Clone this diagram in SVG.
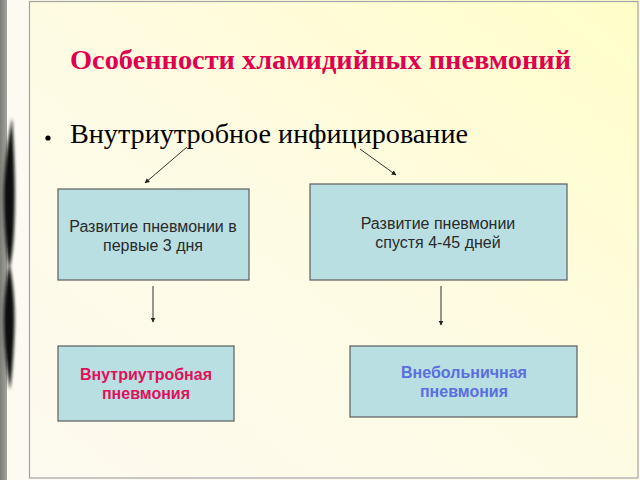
<svg xmlns="http://www.w3.org/2000/svg" width="640" height="480" viewBox="0 0 640 480">
<defs>
<linearGradient id="bg" x1="0" y1="1" x2="1" y2="0">
<stop offset="0" stop-color="#fdfaf0"/>
<stop offset="0.5" stop-color="#fefbe4"/>
<stop offset="1" stop-color="#fffec8"/>
</linearGradient>
<linearGradient id="strip" x1="0" y1="0" x2="1" y2="0">
<stop offset="0" stop-color="#7d7d78"/>
<stop offset="1" stop-color="#a5a59f"/>
</linearGradient>
<filter id="blur" x="-50%" y="-10%" width="200%" height="120%"><feGaussianBlur stdDeviation="1.6"/></filter>
<marker id="ah" viewBox="0 0 10 10" refX="9" refY="5" markerWidth="5" markerHeight="5" orient="auto" markerUnits="userSpaceOnUse">
<path d="M0,0 L10,5 L0,10 z" fill="#222"/>
</marker>
<style>
.box{fill:#b9dfe2;stroke:#5a5e5e;stroke-width:1.2}
.lbl{font-family:"Liberation Sans",Arial,sans-serif;font-size:16px;fill:#2a2a2a;text-anchor:middle}
.bl{font-family:"Liberation Sans",Arial,sans-serif;font-size:16px;font-weight:bold;text-anchor:middle}
.con{stroke:#333;stroke-width:1;fill:none;marker-end:url(#ah)}
.ser{font-family:"Liberation Serif","Times New Roman",serif}
</style>
</defs>
<rect width="640" height="480" fill="url(#bg)"/>
<rect x="0" y="0" width="30" height="480" fill="#fcfaf1"/>
<rect x="0" y="0" width="7" height="480" fill="url(#strip)"/>
<g filter="url(#blur)" fill="#111">
<path d="M12,118 C14,150 16,190 14,230 C13,250 11,262 9,270 C6,250 3,215 4,185 C5,160 9,135 12,118 z"/>
<path d="M9,262 C13,280 16,310 14,340 C13,360 12,375 10,390 C7,370 3,340 4,310 C5,290 7,275 9,262 z"/>
</g>
<rect x="29.5" y="1.5" width="608.5" height="476.5" fill="none" stroke="#a4a3ab" stroke-width="1.2"/>
<text class="ser" x="70" y="69" font-size="27" font-weight="bold" fill="#e0004e" textLength="501" lengthAdjust="spacingAndGlyphs">Особенности хламидийных пневмоний</text>
<circle cx="48" cy="138" r="2.6" fill="#000"/>
<text class="ser" x="70" y="143" font-size="27" fill="#000" textLength="398" lengthAdjust="spacingAndGlyphs">Внутриутробное инфицирование</text>
<g id="connectors">
<line class="con" x1="187" y1="147" x2="145" y2="183"/>
<line class="con" x1="360" y1="149" x2="396" y2="175"/>
<line class="con" x1="153" y1="286" x2="153" y2="322"/>
<line class="con" x1="441" y1="286" x2="441" y2="325"/>
</g>
<g id="node1">
<rect class="box" x="58" y="189" width="191" height="91"/>
<text class="lbl" x="153" y="232">Развитие пневмонии в</text>
<text class="lbl" x="153" y="251">первые 3 дня</text>
</g>
<g id="node2">
<rect class="box" x="310" y="184" width="257" height="96"/>
<text class="lbl" x="438" y="229">Развитие пневмонии</text>
<text class="lbl" x="438" y="248">спустя 4-45 дней</text>
</g>
<g id="node3">
<rect class="box" x="58" y="346" width="176" height="75"/>
<text class="bl" x="146" y="380" fill="#e0105a">Внутриутробная</text>
<text class="bl" x="146" y="399" fill="#e0105a">пневмония</text>
</g>
<g id="node4">
<rect class="box" x="350" y="346" width="227" height="71"/>
<text class="bl" x="464" y="378" fill="#5a6ee0">Внебольничная</text>
<text class="bl" x="464" y="397" fill="#5a6ee0">пневмония</text>
</g>
</svg>
